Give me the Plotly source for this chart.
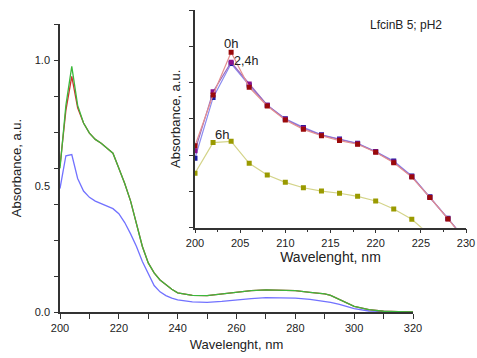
import plotly.graph_objects as go

# ---- main spectra ----
wl_main = [200, 202, 204, 206, 208, 210, 212, 214, 216, 218, 220, 222, 224, 226, 228,
           230, 232, 234, 236, 238, 240, 245, 250, 255, 260, 265, 270, 275, 280, 285,
           290, 292, 295, 300, 305, 310, 315, 320]
abs_red = [0.58, 0.80, 0.935, 0.81, 0.75, 0.71, 0.685, 0.67, 0.65, 0.63, 0.57, 0.51, 0.44,
           0.35, 0.26, 0.195, 0.155, 0.127, 0.108, 0.09, 0.076, 0.066, 0.065, 0.072, 0.080,
           0.085, 0.088, 0.087, 0.085, 0.078, 0.072, 0.066, 0.050, 0.022, 0.009, 0.003, 0.001, 0.0]
abs_green = [0.57, 0.82, 0.975, 0.82, 0.75, 0.71, 0.685, 0.67, 0.65, 0.63, 0.57, 0.51, 0.44,
             0.35, 0.26, 0.195, 0.155, 0.127, 0.108, 0.09, 0.076, 0.066, 0.065, 0.072, 0.080,
             0.085, 0.088, 0.087, 0.085, 0.078, 0.072, 0.066, 0.050, 0.022, 0.009, 0.003, 0.001, 0.0]
abs_blue = [0.49, 0.62, 0.625, 0.53, 0.48, 0.455, 0.44, 0.43, 0.42, 0.41, 0.39, 0.355, 0.31,
            0.26, 0.20, 0.15, 0.105, 0.08, 0.065, 0.055, 0.048, 0.040, 0.038, 0.042, 0.048,
            0.053, 0.057, 0.057, 0.055, 0.050, 0.042, 0.038, 0.030, 0.013, 0.004, 0.001, 0.0, 0.0]

main_x_ticks = [200, 220, 240, 260, 280, 300, 320]
main_y_labels = [0.0, 0.5, 1.0]
main_y_label_text = ["0.0", "0.5", "1.0"]
main_y_tickmarks = [k / 7 for k in range(9)]

# ---- inset (time series) ----
wl_inset = [200, 202, 204, 206, 208, 210, 212, 214, 216, 218, 220, 222, 224, 226, 228, 230]
ins_0h = [0.452, 0.731, 0.967, 0.774, 0.671, 0.594, 0.542, 0.507, 0.480, 0.460, 0.416,
          0.358, 0.279, 0.167, 0.048, -0.07]
ins_2h = [0.424, 0.750, 0.912, 0.792, 0.675, 0.598, 0.548, 0.510, 0.485, 0.463, 0.418,
          0.362, 0.282, 0.168, 0.050, -0.07]
ins_4h = [0.383, 0.717, 0.905, 0.785, 0.675, 0.600, 0.553, 0.512, 0.489, 0.465, 0.420,
          0.368, 0.285, 0.170, 0.052, -0.07]
wl_inset_6h = [200, 202, 204, 206, 208, 210, 212, 214, 216, 218, 220, 222, 224, 226]
ins_6h = [0.300, 0.469, 0.476, 0.355, 0.290, 0.250, 0.220, 0.202, 0.190, 0.173, 0.147,
          0.103, 0.046, -0.04]

FONT = "Liberation Sans, Arial, sans-serif"
AX = "#333333"
TXT = "#222222"

fig = go.Figure()

# main traces
fig.add_trace(go.Scatter(x=wl_main, y=abs_blue, mode="lines",
                         line=dict(color="#7272ff", width=1.3), xaxis="x", yaxis="y"))
fig.add_trace(go.Scatter(x=wl_main, y=abs_red, mode="lines",
                         line=dict(color="#d03030", width=1.3), xaxis="x", yaxis="y"))
fig.add_trace(go.Scatter(x=wl_main, y=abs_green, mode="lines",
                         line=dict(color="#3cb83c", width=1.3), xaxis="x", yaxis="y"))
# dummy trace for tick-mark overlay axis
fig.add_trace(go.Scatter(x=[], y=[], xaxis="x", yaxis="y3", showlegend=False))

# inset traces
fig.add_trace(go.Scatter(x=wl_inset_6h, y=ins_6h, mode="lines+markers",
                         line=dict(color="#d4d48a", width=1.2),
                         marker=dict(symbol="square", size=5, color="#9a9a00"),
                         xaxis="x2", yaxis="y2"))
fig.add_trace(go.Scatter(x=wl_inset, y=ins_4h, mode="lines+markers",
                         line=dict(color="#8c8cf0", width=1.2),
                         marker=dict(symbol="square", size=5, color="#1a1aa0"),
                         xaxis="x2", yaxis="y2"))
fig.add_trace(go.Scatter(x=wl_inset, y=ins_2h, mode="lines+markers",
                         line=dict(color="#9a6ac0", width=1.2),
                         marker=dict(symbol="square", size=5, color="#8a108a"),
                         xaxis="x2", yaxis="y2"))
fig.add_trace(go.Scatter(x=wl_inset, y=ins_0h, mode="lines+markers",
                         line=dict(color="#e49090", width=1.2),
                         marker=dict(symbol="square", size=5, color="#9a0a0a"),
                         xaxis="x2", yaxis="y2"))

W, H = 477, 358
x0, x1 = 60, 413
y0, y1 = 24, 312
ix0, ix1 = 195, 466
iy0, iy1 = 10, 227.7

fig.update_layout(
    width=W, height=H,
    margin=dict(l=0, r=0, t=0, b=0, autoexpand=False),
    paper_bgcolor="white", plot_bgcolor="rgba(0,0,0,0)",
    showlegend=False,
    font=dict(family=FONT, color=TXT, size=11),
    xaxis=dict(domain=[x0 / W, x1 / W], range=[200, 320], anchor="y", automargin=False,
               tickvals=main_x_ticks, ticks="outside", ticklen=5, tickwidth=1.2,
               tickcolor=AX, showline=True, linecolor=AX, linewidth=1.5,
               showgrid=False, zeroline=False,
               minor=dict(dtick=10, tick0=200, ticks="outside", ticklen=5,
                          tickwidth=1.2, tickcolor=AX, showgrid=False),
               tickfont=dict(size=11),
               title=dict(text="Wavelenght, nm", font=dict(size=13), standoff=7)),
    yaxis=dict(domain=[(H - y1) / H, (H - y0) / H], range=[0, 8 / 7], anchor="x",
               automargin=False,
               tickvals=main_y_labels, ticktext=main_y_label_text,
               ticks="outside", ticklen=6, tickcolor="rgba(0,0,0,0)",
               showline=True, linecolor=AX, linewidth=1.5,
               showgrid=False, zeroline=False, tickfont=dict(size=11),
               title=dict(text="Absorbance, a.u.", font=dict(size=13), standoff=10)),
    yaxis3=dict(overlaying="y", range=[0, 8 / 7], anchor="x", side="left",
                automargin=False,
                tickvals=main_y_tickmarks, ticks="outside", ticklen=5, tickwidth=1.2,
                tickcolor=AX, showticklabels=False, showline=False,
                showgrid=False, zeroline=False),
    xaxis2=dict(domain=[ix0 / W, ix1 / W], range=[200, 230], anchor="y2",
                automargin=False,
                dtick=5, tick0=200, ticks="outside", ticklen=4, tickwidth=1.2,
                tickcolor=AX, showline=True, linecolor=AX, linewidth=1.5,
                showgrid=False, zeroline=False,
                minor=dict(dtick=2.5, tick0=200, ticks="outside", ticklen=3,
                           tickwidth=1.2, tickcolor=AX, showgrid=False),
                tickfont=dict(size=11),
                title=dict(text="Wavelenght, nm", font=dict(size=14), standoff=2)),
    yaxis2=dict(domain=[(H - iy1) / H, (H - iy0) / H], range=[0, 1.2], anchor="x2",
                automargin=False,
                tickvals=[0.2 * k for k in range(7)], ticks="outside", ticklen=4,
                tickwidth=1.2, tickcolor=AX, showticklabels=False,
                showline=True, linecolor=AX, linewidth=1.5,
                showgrid=False, zeroline=False,
                title=dict(text="Absorbance, a.u.", font=dict(size=13), standoff=6)),
    annotations=[
        dict(text="0h", x=204, y=1.018, xref="x2", yref="y2", showarrow=False,
             font=dict(size=13, color=TXT)),
        dict(text="2,4h", x=205.65, y=0.919, xref="x2", yref="y2", showarrow=False,
             font=dict(size=12.5, color=TXT)),
        dict(text="6h", x=203.0, y=0.516, xref="x2", yref="y2", showarrow=False,
             font=dict(size=13, color=TXT)),
        dict(text="LfcinB 5; pH2", x=223.4, y=1.117, xref="x2", yref="y2",
             showarrow=False, font=dict(size=12, color=TXT)),
    ],
)

fig.write_html("out.html")
